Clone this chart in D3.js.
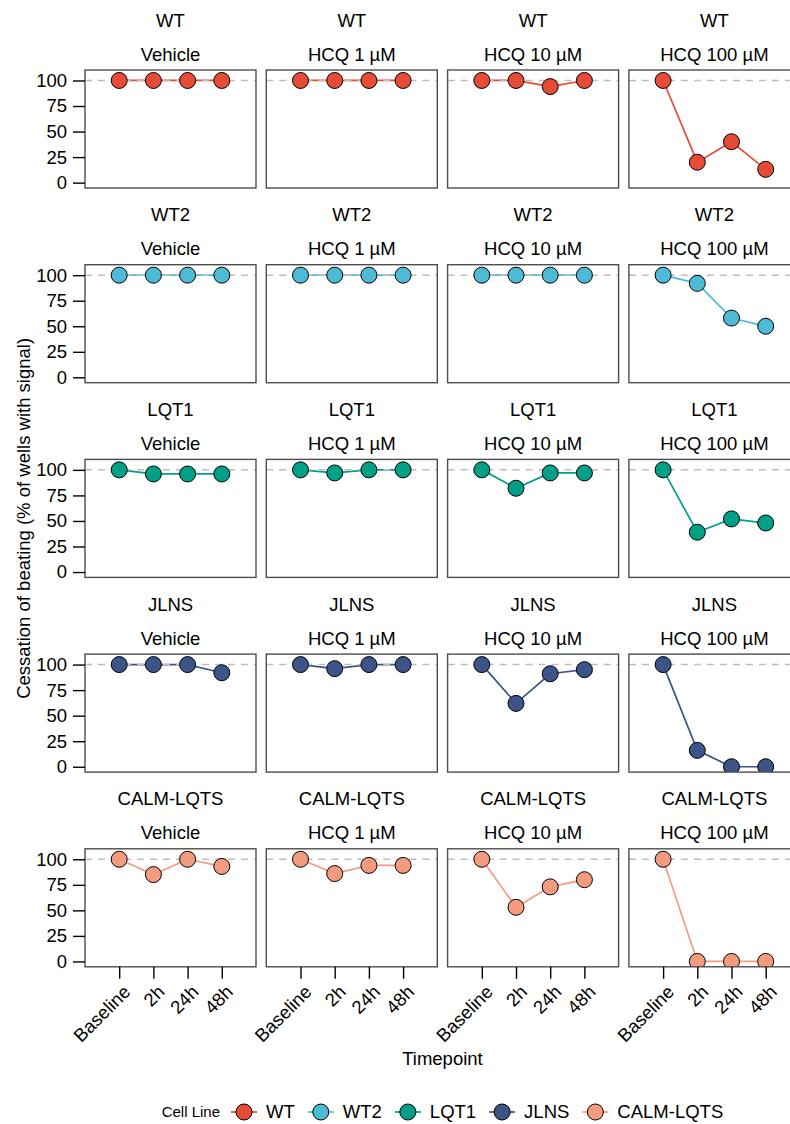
<!DOCTYPE html>
<html>
<head>
<meta charset="utf-8">
<script src="https://cdn.jsdelivr.net/npm/d3@7"></script>
<style>
  body { margin: 0; background: #fff; }
  text { font-family: "Liberation Sans", Arial, sans-serif; fill: #000; }
</style>
</head>
<body>
<div class="canvas"></div>
<script>
const timepoints = ["Baseline", "2h", "24h", "48h"]
const treatments = ["Vehicle", "HCQ 1 µM", "HCQ 10 µM", "HCQ 100 µM"]
const cellLines = ["WT", "WT2", "LQT1", "JLNS", "CALM-LQTS"]
const lineColors = ["#E64B35", "#4DBBD5", "#00A087", "#3C5488", "#F39B7F"]
const yTicks = [0, 25, 50, 75, 100]

// one array per cell line, one row per treatment (Baseline, 2h, 24h, 48h)
const wtValues = [[100, 100, 100, 100], [100, 100, 100, 100], [100, 100, 94, 100], [100, 20, 40, 13]]
const wt2Values = [[100, 100, 100, 100], [100, 100, 100, 100], [100, 100, 100, 100], [100, 92, 58, 50]]
const lqt1Values = [[100, 96, 96, 96], [100, 97, 100, 100], [100, 82, 97, 97], [100, 39, 52, 48]]
const jlnsValues = [[100, 100, 100, 92], [100, 96, 100, 100], [100, 62, 91, 95], [100, 16, 0, 0]]
const calmValues = [[100, 85, 100, 93], [100, 86, 94, 94], [100, 53, 73, 80], [100, 0, 0, 0]]
const allValues = [wtValues, wt2Values, lqt1Values, jlnsValues, calmValues]

const W = 790, H = 1124
const left0 = 85, top0 = 70
const pw = 171, ph = 118
const colStep = 181.3, rowStep = 194.7
const fs = "18.5px"

const svg = d3.select(".canvas").append("svg")
  .attr("width", W).attr("height", H)

const x = d3.scalePoint().domain(timepoints).range([0, pw]).padding(1)
const y = d3.scaleLinear().domain([-5.25, 110.25]).range([ph, 0])
const color = d3.scaleOrdinal().domain(cellLines).range(lineColors)
const line = d3.line().x((d, i) => x(timepoints[i])).y(d => y(d))

cellLines.forEach((cl, r) => {
  treatments.forEach((tr, c) => {
    const px = left0 + c * colStep
    const py = top0 + r * rowStep
    const g = svg.append("g").attr("transform", `translate(${px},${py})`)
    const vals = allValues[r][c]
    const clipId = `clip-${r}-${c}`

    g.append("clipPath").attr("id", clipId)
      .append("rect").attr("width", pw).attr("height", ph)

    g.append("text").attr("x", pw / 2).attr("y", -43.5)
      .attr("text-anchor", "middle").style("font-size", fs).text(cl)
    g.append("text").attr("x", pw / 2).attr("y", -9.5)
      .attr("text-anchor", "middle").style("font-size", fs).text(tr)

    const inner = g.append("g").attr("clip-path", `url(#${clipId})`)
    inner.append("path").datum(vals)
      .attr("d", line)
      .attr("fill", "none")
      .attr("stroke", color(cl))
      .attr("stroke-width", 1.7)
    inner.append("line")
      .attr("x1", 0).attr("x2", pw)
      .attr("y1", y(100)).attr("y2", y(100))
      .attr("stroke", "#BEBEBE").attr("stroke-width", 1.5)
      .attr("stroke-dasharray", "7,6")
    inner.selectAll("circle").data(vals).enter().append("circle")
      .attr("cx", (d, i) => x(timepoints[i]))
      .attr("cy", d => y(d))
      .attr("r", 8)
      .attr("fill", color(cl))
      .attr("stroke", "#000").attr("stroke-width", 1)

    g.append("rect").attr("width", pw).attr("height", ph)
      .attr("fill", "none").attr("stroke", "#4D4D4D").attr("stroke-width", 1.4)

    if (c === 0) {
      const ya = g.append("g")
        .call(d3.axisLeft(y).tickValues(yTicks).tickSize(12).tickPadding(6))
      ya.select(".domain").remove()
      ya.selectAll(".tick line").attr("stroke", "#000").attr("stroke-width", 1.4)
      ya.selectAll(".tick text").style("font-size", fs)
        .style("font-family", "'Liberation Sans', Arial, sans-serif")
    }
    if (r === cellLines.length - 1) {
      const xa = g.append("g").attr("transform", `translate(0,${ph})`)
        .call(d3.axisBottom(x).tickSize(12).tickFormat(""))
      xa.select(".domain").remove()
      xa.selectAll(".tick line").attr("stroke", "#000").attr("stroke-width", 1.4)
      g.selectAll(".xlab").data(timepoints).enter().append("text")
        .attr("class", "xlab")
        .attr("text-anchor", "end")
        .attr("dy", "0.71em")
        .attr("transform", d => `translate(${x(d) + 3},${ph + 17}) rotate(-45)`)
        .style("font-size", fs)
        .text(d => d)
    }
  })
})

// axis titles
const plotMid = left0 + (3 * colStep + pw) / 2
svg.append("text").attr("x", plotMid).attr("y", 1065)
  .attr("text-anchor", "middle").style("font-size", fs).text("Timepoint")
svg.append("text")
  .attr("transform", `translate(30,${(top0 + top0 + 4 * rowStep + ph) / 2}) rotate(-90)`)
  .attr("text-anchor", "middle").style("font-size", fs)
  .text("Cessation of beating (% of wells with signal)")

// legend
const legend = svg.append("g")
const legY = 1112
const title = legend.append("text").attr("x", 0).attr("y", legY).attr("dy", "0.35em")
  .style("font-size", "15px").text("Cell Line")
let cursor = title.node().getComputedTextLength() + 11
cellLines.forEach((cl, i) => {
  const k = legend.append("g").attr("transform", `translate(${cursor},${legY})`)
  k.append("line").attr("x1", 0).attr("x2", 26)
    .attr("stroke", color(cl)).attr("stroke-width", 1.7)
  k.append("circle").attr("cx", 13).attr("r", 8)
    .attr("fill", color(cl)).attr("stroke", "#000").attr("stroke-width", 1)
  const t = legend.append("text").attr("x", cursor + 35).attr("y", legY).attr("dy", "0.35em")
    .style("font-size", fs).text(cl)
  cursor += 35 + t.node().getComputedTextLength() + 13
})
const legW = cursor - 13
legend.attr("transform", `translate(${plotMid - legW / 2},0)`)
</script>
</body>
</html>
